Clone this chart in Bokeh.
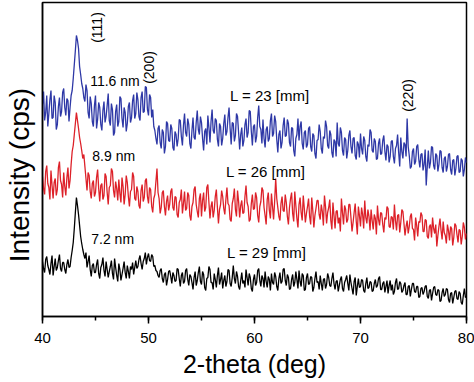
import numpy as np
from bokeh.plotting import figure
from bokeh.models import Label, SingleIntervalTicker, FixedTicker
from bokeh.embed import file_html
from bokeh.resources import INLINE

# Intensities (arbitrary cps), sampled every 0.1 deg from 40 to 80 (10 values per degree)
blue_L23 = [
    212, 225, 196, 204, 221, 190, 203, 217, 226, 198,  # 40
    199, 221, 214, 187, 192, 210, 219, 200, 205, 224,  # 41
    228, 209, 201, 218, 216, 195, 209, 221, 226, 238,  # 42
    252, 266, 281, 276, 268, 250, 242, 233, 228, 219,  # 43
    215, 232, 226, 204, 198, 220, 213, 195, 190, 211,  # 44
    221, 188, 197, 214, 209, 192, 186, 206, 215, 194,  # 45
    200, 211, 223, 196, 191, 213, 207, 181, 184, 205,  # 46
    212, 190, 195, 220, 218, 198, 189, 209, 204, 185,  # 47
    193, 210, 214, 194, 199, 216, 222, 198, 203, 224,  # 48
    217, 200, 196, 219, 225, 204, 205, 230, 229, 207,  # 49
    201, 222, 219, 199, 207, 190, 186, 178, 172, 188,  # 50
    191, 174, 168, 187, 184, 163, 170, 195, 193, 176,  # 51
    175, 192, 188, 169, 166, 185, 182, 170, 178, 197,  # 52
    196, 180, 171, 191, 203, 184, 180, 198, 192, 173,  # 53
    168, 186, 199, 179, 177, 194, 206, 187, 182, 200,  # 54
    194, 178, 166, 185, 188, 172, 201, 189, 174, 195,  # 55
    207, 186, 183, 198, 196, 177, 170, 193, 190, 171,  # 56
    178, 193, 202, 181, 185, 199, 209, 188, 172, 194,  # 57
    193, 175, 181, 203, 200, 184, 167, 182, 189, 170,  # 58
    176, 192, 198, 179, 184, 206, 205, 185, 171, 190,  # 59
    192, 174, 180, 199, 211, 190, 187, 173, 197, 178,  # 60
    169, 187, 190, 175, 178, 196, 203, 180, 183, 201,  # 61
    195, 177, 164, 182, 186, 168, 174, 191, 199, 180,  # 62
    181, 197, 193, 174, 170, 189, 188, 166, 160, 178,  # 63
    182, 198, 176, 190, 195, 173, 167, 184, 186, 169,  # 64
    172, 188, 190, 170, 165, 183, 181, 163, 158, 176,  # 65
    177, 192, 185, 168, 163, 180, 178, 196, 190, 171,  # 66
    168, 186, 182, 164, 159, 177, 175, 160, 194, 173,  # 67
    170, 189, 184, 166, 161, 179, 177, 158, 166, 181,  # 68
    186, 170, 163, 178, 179, 161, 157, 175, 172, 159,  # 69
    183, 168, 162, 180, 176, 160, 155, 172, 170, 187,  # 70
    184, 166, 164, 178, 175, 157, 158, 173, 178, 162,  # 71
    163, 176, 181, 165, 156, 172, 170, 154, 160, 175,  # 72
    176, 160, 153, 168, 171, 182, 164, 150, 179, 165,  # 73
    158, 174, 172, 160, 198, 170, 161, 148, 150, 165,  # 74
    168, 152, 155, 170, 172, 157, 149, 162, 163, 146,  # 75
    152, 167, 131, 150, 166, 148, 154, 170, 169, 151,  # 76
    147, 163, 161, 145, 152, 166, 165, 149, 144, 158,  # 77
    160, 145, 150, 162, 163, 147, 142, 156, 157, 141,  # 78
    148, 160, 161, 144, 145, 158, 156, 140, 147, 159,  # 79
    154,                                               # 80
]

red_L26 = [
    140, 128, 122, 145, 151, 133, 129, 117, 146, 131,  # 40
    118, 134, 138, 121, 127, 149, 155, 136, 132, 119,  # 41
    144, 130, 121, 139, 149, 128, 136, 152, 165, 171,  # 42
    182, 193, 204, 196, 188, 179, 173, 166, 158, 162,  # 43
    150, 138, 126, 144, 141, 125, 118, 133, 136, 120,  # 44
    124, 139, 147, 128, 115, 131, 133, 117, 121, 143,  # 45
    140, 124, 112, 129, 131, 148, 145, 126, 119, 135,  # 46
    128, 116, 137, 123, 114, 139, 130, 112, 122, 141,  # 47
    134, 120, 110, 125, 127, 144, 140, 118, 116, 130,  # 48
    125, 111, 108, 126, 132, 115, 119, 136, 138, 120,  # 49
    113, 129, 127, 110, 104, 118, 122, 135, 148, 124,  # 50
    118, 103, 109, 124, 126, 110, 101, 115, 121, 106,  # 51
    112, 125, 128, 109, 106, 120, 119, 102, 99, 114,   # 52
    117, 127, 103, 113, 125, 106, 108, 124, 121, 101,  # 53
    96, 110, 114, 127, 130, 112, 105, 99, 118, 123,    # 54
    100, 116, 124, 105, 109, 129, 132, 114, 98, 110,   # 55
    115, 99, 106, 120, 127, 109, 93, 107, 112, 126,    # 56
    120, 108, 102, 117, 129, 113, 111, 97, 95, 113,    # 57
    118, 128, 107, 100, 126, 115, 99, 111, 116, 103,   # 58
    104, 120, 131, 114, 110, 95, 97, 113, 122, 107,    # 59
    108, 124, 119, 101, 94, 110, 115, 129, 126, 109,   # 60
    101, 92, 117, 124, 106, 98, 123, 110, 97, 115,     # 61
    138, 118, 109, 100, 96, 113, 120, 106, 105, 122,   # 62
    114, 100, 92, 109, 118, 124, 103, 95, 125, 111,    # 63
    98, 89, 112, 119, 104, 96, 121, 108, 94, 103,      # 64
    110, 118, 100, 92, 119, 106, 89, 101, 108, 116,    # 65
    116, 102, 97, 112, 105, 91, 121, 110, 93, 104,     # 66
    109, 117, 96, 87, 114, 101, 88, 105, 106, 93,      # 67
    99, 85, 118, 104, 92, 111, 107, 94, 97, 112,       # 68
    112, 99, 85, 94, 104, 113, 95, 82, 110, 101,       # 69
    90, 109, 102, 88, 116, 99, 93, 107, 100, 86,       # 70
    107, 96, 87, 102, 98, 82, 111, 97, 91, 104,        # 71
    103, 92, 84, 99, 97, 110, 108, 90, 89, 100,        # 72
    99, 87, 112, 96, 86, 101, 102, 84, 94, 107,        # 73
    105, 93, 81, 90, 96, 83, 90, 100, 103, 88,         # 74
    87, 76, 99, 91, 80, 95, 94, 104, 101, 85,          # 75
    85, 97, 96, 80, 78, 90, 92, 79, 99, 88,            # 76
    83, 92, 70, 81, 90, 98, 86, 77, 95, 84,            # 77
    81, 73, 92, 86, 76, 90, 88, 71, 79, 93,            # 78
    91, 82, 74, 87, 86, 72, 80, 94, 89, 77,            # 79
    83,                                                # 80
]

black_L29 = [
    55, 48, 44, 57, 60, 51, 47, 42, 53, 61,     # 40
    41, 50, 58, 46, 49, 56, 62, 48, 45, 54,     # 41
    54, 47, 43, 52, 57, 49, 50, 59, 66, 74,     # 42
    88, 104, 119, 111, 102, 91, 80, 73, 67, 62, # 43
    58, 64, 49, 55, 61, 47, 40, 51, 53, 44,     # 44
    44, 52, 57, 43, 38, 49, 52, 59, 46, 40,     # 45
    55, 47, 39, 45, 50, 56, 43, 37, 58, 49,     # 46
    41, 35, 53, 47, 36, 42, 48, 55, 44, 38,     # 47
    51, 45, 38, 50, 47, 54, 42, 49, 56, 48,     # 48
    50, 57, 61, 53, 47, 55, 58, 64, 52, 59,     # 49
    63, 56, 55, 62, 60, 50, 51, 46, 45, 41,     # 50
    39, 46, 48, 38, 34, 42, 44, 31, 37, 45,     # 51
    46, 40, 33, 44, 41, 35, 36, 48, 47, 38,     # 52
    30, 41, 44, 33, 35, 46, 48, 37, 31, 42,     # 53
    40, 34, 27, 39, 45, 31, 36, 44, 50, 35,     # 54
    32, 45, 42, 29, 26, 38, 39, 50, 47, 34,     # 55
    34, 27, 43, 37, 29, 41, 49, 32, 37, 44,     # 56
    28, 36, 41, 30, 35, 47, 46, 33, 30, 39,     # 57
    51, 38, 33, 45, 40, 30, 27, 36, 44, 33,     # 58
    36, 29, 47, 39, 31, 43, 39, 28, 25, 37,     # 59
    42, 31, 34, 46, 48, 36, 30, 41, 38, 29,     # 60
    45, 35, 29, 40, 37, 26, 43, 34, 32, 44,     # 61
    40, 30, 26, 38, 44, 33, 35, 47, 48, 36,     # 62
    31, 42, 39, 27, 28, 37, 42, 30, 34, 45,     # 63
    37, 28, 46, 35, 30, 43, 41, 26, 27, 39,     # 64
    43, 32, 33, 40, 39, 25, 29, 38, 45, 34,     # 65
    35, 27, 41, 33, 26, 37, 38, 28, 32, 43,     # 66
    39, 31, 30, 38, 44, 33, 27, 35, 36, 25,     # 67
    31, 37, 40, 28, 25, 34, 37, 41, 33, 26,     # 68
    42, 34, 28, 22, 35, 39, 21, 30, 38, 29,     # 69
    30, 37, 36, 26, 24, 33, 39, 28, 29, 35,     # 70
    34, 25, 26, 33, 37, 29, 31, 38, 40, 27,     # 71
    27, 33, 35, 24, 30, 36, 23, 31, 36, 26,     # 72
    32, 22, 25, 34, 38, 27, 28, 35, 33, 24,     # 73
    26, 31, 34, 22, 22, 30, 31, 20, 27, 33,     # 74
    33, 25, 24, 30, 30, 19, 20, 28, 29, 22,     # 75
    25, 30, 31, 20, 18, 26, 27, 16, 23, 29,     # 76
    30, 22, 21, 27, 26, 15, 16, 24, 28, 20,     # 77
    22, 28, 27, 17, 14, 23, 24, 13, 19, 25,     # 78
    26, 18, 17, 25, 23, 14, 12, 21, 28, 19,     # 79
    20,                                         # 80
]

x_start, x_end = 40, 80
x_tick_interval = 10

FONT = "Liberation Sans"

p = figure(width=474, height=382, x_range=(x_start, x_end), y_range=(0, 314),
           output_backend="svg", toolbar_location=None,
           min_border_left=40, min_border_right=8, min_border_top=2,
           min_border_bottom=66, background_fill_color="white",
           border_fill_color="white")
p.grid.visible = False
p.outline_line_color = "black"
p.outline_line_width = 1.5

for series, color in ((black_L29, "#000000"), (red_L26, "#DD2129"), (blue_L23, "#2E38A6")):
    xs = np.linspace(x_start, x_end, len(series))
    p.line(xs, series, line_color=color, line_width=1.3)

xa = p.xaxis[0]
xa.ticker = SingleIntervalTicker(interval=x_tick_interval, num_minor_ticks=2)
xa.axis_line_width = 1.5
xa.major_tick_out = 7
xa.major_tick_in = 0
xa.minor_tick_out = 4
xa.minor_tick_in = 0
xa.major_tick_line_width = 1.5
xa.minor_tick_line_width = 1.5
xa.major_label_text_font = FONT
xa.major_label_text_font_size = "15px"
xa.major_label_text_color = "black"
xa.major_label_standoff = 9
xa.axis_label = "2-theta (deg)"
xa.axis_label_text_font = FONT
xa.axis_label_text_font_size = "25px"
xa.axis_label_text_font_style = "normal"
xa.axis_label_text_color = "black"
xa.axis_label_standoff = 4

ya = p.yaxis[0]
ya.ticker = FixedTicker(ticks=[])
ya.axis_line_width = 1.5
ya.major_tick_line_color = None
ya.minor_tick_line_color = None
# trailing no-break spaces move the centred title slightly down, as in the original
ya.axis_label = "Intensity (cps)\u00a0\u00a0\u00a0\u00a0"
ya.axis_label_text_font = FONT
ya.axis_label_text_font_size = "28px"
ya.axis_label_text_font_style = "normal"
ya.axis_label_text_color = "black"
ya.axis_label_standoff = 8

def add_label(x, y, text, size, angle=0.0, align="left"):
    p.add_layout(Label(x=x, y=y, text=text, text_font=FONT, text_font_size=size,
                       text_color="black", angle=angle, text_align=align,
                       text_baseline="middle"))

add_label(45.1, 289, "(111)", "14px", angle=np.pi / 2, align="center")
add_label(44.5, 236, "11.6 nm", "14px")
add_label(50.0, 249, "(200)", "14px", angle=np.pi / 2, align="center")
add_label(57.7, 221, "L = 23 [mm]", "15px")
add_label(74.5, 221, "(220)", "14px", angle=np.pi / 2, align="center")
add_label(44.7, 161, "8.9 nm", "14px")
add_label(57.3, 145, "L = 26 [mm]", "15px")
add_label(44.6, 78, "7.2 nm", "14px")
add_label(57.4, 64, "L = 29 [mm]", "15px")

open("out.html", "w").write(file_html(p, INLINE))
